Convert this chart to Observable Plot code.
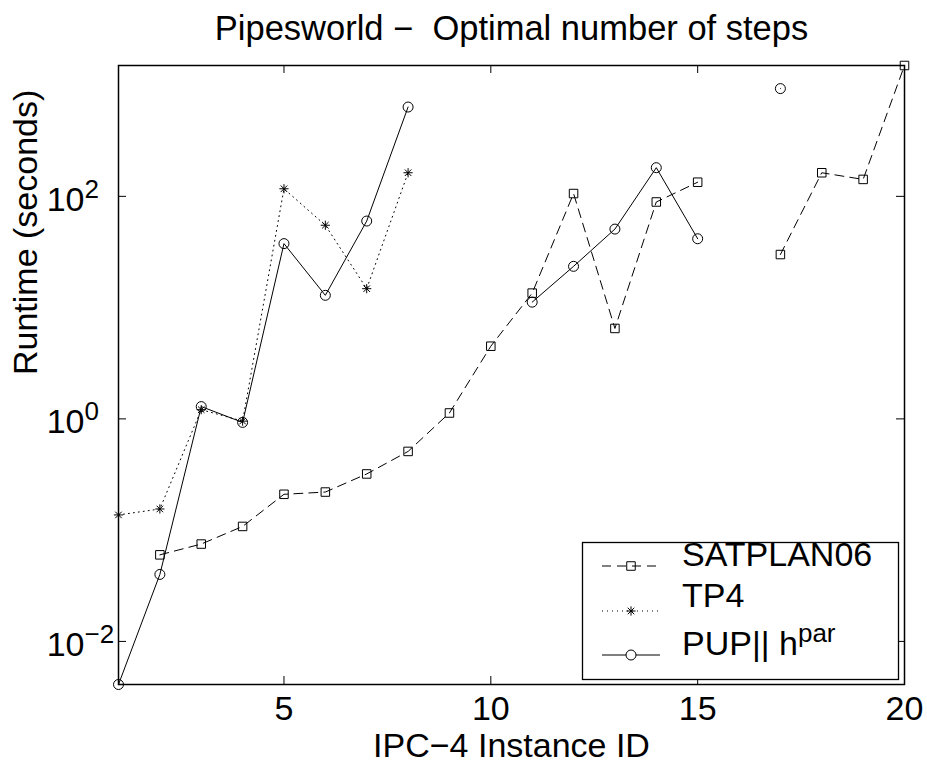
<!DOCTYPE html>
<html>
<head>
<meta charset="utf-8">
<script src="https://cdn.jsdelivr.net/npm/d3@7"></script>
<script src="https://cdn.jsdelivr.net/npm/@observablehq/plot@0.6"></script>
<style>
  body { margin: 0; background: #fff; }
</style>
</head>
<body>
<div id="chart"></div>
<script>
// Pipesworld, IPC-4 instances 1..20: runtime in seconds (null = not solved)
const instanceIds = d3.range(1, 21);
const satplan06 = [null, 0.060, 0.075, 0.108, 0.21, 0.22, 0.32, 0.51, 1.13, 4.5,
                   13.5, 106, 6.5, 89, 134, null, 30, 163, 142, 1500];
const tp4       = [0.137, 0.155, 1.21, 0.955, 117, 55, 14.8, 163, null, null,
                   null, null, null, null, null, null, null, null, null, null];
const pupHpar   = [0.0041, 0.040, 1.29, 0.93, 37.6, 12.9, 60, 635, null, null,
                   11.2, 23.5, 50.8, 181, 41.6, null, 930, null, null, null];

const xTicks = [5, 10, 15, 20];
const yTicks = [0.01, 1, 100];

const titleText = "Pipesworld \u2212\u00a0 Optimal number of steps";
const xLabel = "IPC\u22124 Instance ID";
const yLabel = "Runtime (seconds)";

const FONT = "'Liberation Sans', Arial, Helvetica, sans-serif";
const FS = 34;      // main text size
const SUP = 26;     // superscript size

const toRows = (vals) => instanceIds.map((id, i) => ({id, t: vals[i]}));
const satRows = toRows(satplan06);
const tpRows = toRows(tp4);
const pupRows = toRows(pupHpar);

// eight-spoke asterisk marker
const asterisk8 = {
  draw(ctx, size) {
    const r = Math.sqrt(size / Math.PI);
    const d = r * Math.SQRT1_2;
    ctx.moveTo(0, -r); ctx.lineTo(0, r);
    ctx.moveTo(-r, 0); ctx.lineTo(r, 0);
    ctx.moveTo(-d, -d); ctx.lineTo(d, d);
    ctx.moveTo(-d, d); ctx.lineTo(d, -d);
  }
};

const series = [
  {name: "SATPLAN06", rows: satRows, dash: "9,6", symbol: "square", r: 4.8},
  {name: "TP4", rows: tpRows, dash: "1,4", symbol: asterisk8, r: 4.6},
  {name: "PUP|| h", sup: "par", rows: pupRows, dash: null, symbol: "circle", r: 5}
];

const allValues = [...satplan06, ...tp4, ...pupHpar].filter((v) => v != null);
const yDomain = d3.extent(allValues);

const W = 927, H = 763;
const mL = 118, mR = 23, mT = 65, mB = 79;
const plotW = W - mL - mR, plotH = H - mT - mB;
const TICK = 8;

const supFormat = (d) => "10^" + String(Math.round(Math.log10(d))).replace("-", "\u2212");

const marks = [];
for (const s of series) {
  marks.push(Plot.line(s.rows, {
    x: "id", y: "t", stroke: "black", strokeWidth: 1,
    strokeDasharray: s.dash ?? undefined
  }));
  marks.push(Plot.dot(s.rows, {
    x: "id", y: "t", symbol: s.symbol, r: s.r,
    stroke: "black", strokeWidth: 1, fill: "none"
  }));
}

const chart = Plot.plot({
  width: W, height: H,
  marginLeft: mL, marginRight: mR, marginTop: mT, marginBottom: mB,
  x: {domain: [1, 20]},
  y: {type: "log", domain: yDomain},
  style: {fontFamily: FONT, fontSize: FS + "px", background: "white", color: "black", overflow: "visible"},
  marks: [
    // inward ticks on all four sides
    Plot.tickX(xTicks, {x: (d) => d, stroke: "black", strokeWidth: 1, insetTop: plotH - TICK}),
    Plot.tickX(xTicks, {x: (d) => d, stroke: "black", strokeWidth: 1, insetBottom: plotH - TICK}),
    Plot.tickY(yTicks, {y: (d) => d, stroke: "black", strokeWidth: 1, insetRight: plotW - TICK}),
    Plot.tickY(yTicks, {y: (d) => d, stroke: "black", strokeWidth: 1, insetLeft: plotW - TICK}),
    ...marks,
    Plot.frame({stroke: "black", strokeWidth: 1.5}),
    Plot.axisX(xTicks, {anchor: "bottom", tickSize: 0, tickPadding: 11, fontSize: FS, label: null}),
    Plot.axisY(yTicks, {anchor: "left", tickSize: 0, tickPadding: 34, dy: 3.5, fontSize: FS,
                        tickFormat: supFormat, label: null}),
    Plot.text([titleText], {text: (d) => d, frameAnchor: "top", dy: -50, fontSize: 34.5}),
    Plot.text([xLabel], {text: (d) => d, frameAnchor: "bottom", dy: 72, fontSize: FS}),
    Plot.text([yLabel], {text: (d) => d, frameAnchor: "left", rotate: -90, dx: -92, fontSize: FS})
  ]
});

// log tick labels: base "10" right-aligned, exponent raised after it
d3.select(chart).selectAll('g[aria-label="y-axis tick label"] text').each(function () {
  const parts = this.textContent.split("^");
  if (parts.length < 2) return;
  const t = d3.select(this).attr("text-anchor", "end");
  t.text(parts[0]);
  t.append("tspan")
    .attr("x", 0).attr("text-anchor", "start")
    .attr("dy", -13).attr("font-size", SUP).text(parts[1]);
});

// legend box in the lower right of the axes
const lg = d3.select(chart).append("g")
  .attr("font-family", FONT).attr("font-size", FS).attr("fill", "black")
  .attr("text-anchor", "start");
lg.append("rect")
  .attr("x", 582.5).attr("y", 542.5).attr("width", 316).attr("height", 137)
  .attr("fill", "white").attr("stroke", "black").attr("stroke-width", 1.3);

const rowLineY = [566, 611, 655];
const rowTextY = [566, 607, 655];
series.forEach((s, i) => {
  const ly = rowLineY[i];
  lg.append("line")
    .attr("x1", 602).attr("x2", 660).attr("y1", ly).attr("y2", ly)
    .attr("stroke", "black").attr("stroke-width", 1)
    .attr("stroke-dasharray", s.dash);
  const symType = s.symbol === "square" ? d3.symbolSquare
    : s.symbol === "circle" ? d3.symbolCircle : s.symbol;
  lg.append("path")
    .attr("transform", `translate(631,${ly})`)
    .attr("d", d3.symbol(symType, s.r * s.r * Math.PI)())
    .attr("fill", s.symbol === "circle" ? "white" : "none")
    .attr("stroke", "black").attr("stroke-width", 1);
  const tx = lg.append("text").attr("x", 682).attr("y", rowTextY[i]).text(s.name);
  if (s.sup) tx.append("tspan").attr("dy", -13).attr("font-size", SUP).text(s.sup);
});

document.getElementById("chart").appendChild(chart);
</script>
</body>
</html>
